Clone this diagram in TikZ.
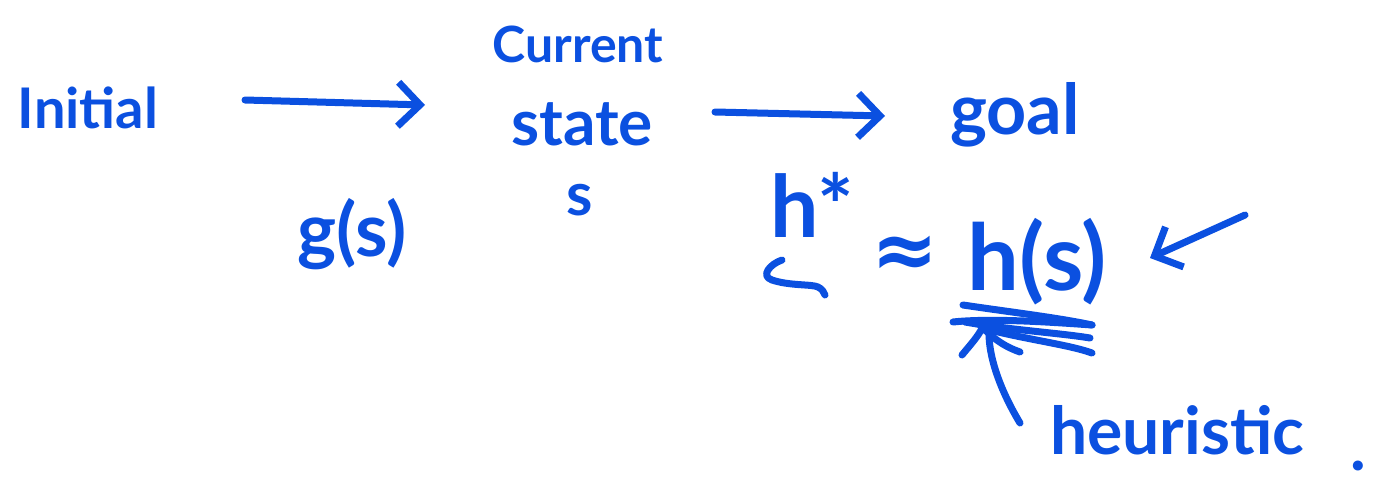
\documentclass[tikz,border=0pt]{standalone}
\usepackage{fontspec}
\setmainfont{Lato}
\newfontfamily\symfont{DejaVu Sans}
\usetikzlibrary{arrows.meta}
\definecolor{ink}{HTML}{0B50E0}
\tikzset{
  ink/.style={text=ink, inner sep=0pt, font=\bfseries\fontsize{56}{60}\selectfont},
  stroke/.style={draw=ink, line width=7pt, line cap=round, line join=round},
  pen/.style={stroke, -{Straight Barb[length=22pt,width=44pt,line width=7pt]}}
}
\newcommand{\fs}[1]{\bfseries\fontsize{#1}{#1}\selectfont}
\begin{document}
\begin{tikzpicture}[x=1pt,y=-1pt]
\useasboundingbox (0,0) rectangle (1373,490);
% states along the path
\node[ink] (init) at (88,108) {Initial};
\node[ink, font=\fs{50}] (cur) at (578,44) {Current};
\node[ink, font=\fs{64}] (state) at (582,124) {state};
\node[ink, font=\fs{60}] (s) at (580,200) {s};
\node[ink, font=\fs{70}] (goal) at (1015,115) {goal};
% cost so far
\node[ink, font=\fs{74}] (g) at (352,234) {g(s)};
% heuristic estimate
\node[ink, font=\fs{86}] (hstar) at (812,205) {h*};
\node[ink, font=\symfont\fs{80}] (approx) at (905,257) {≈};
\node[ink, font=\fs{92}] (h) at (1037,262) {h(s)};
\node[ink, font=\fs{66}, anchor=west] (heur) at (1050,430) {heuristic};
\node[ink, font=\fs{66}] (dot) at (1358,466) {.};
% transitions
\draw[pen] (245,100) -- (425,105);
\coordinate (a1) at (715,112);
\coordinate (a2) at (885,116);
\draw[pen] (a1) -- (a2);
% pointer toward h(s)
\coordinate (p0) at (1245,215);
\draw[pen] (p0) -- (1150,258);
% squiggle under h*
\draw[stroke] (782,260) .. controls (770,264) and (760,276) .. (772,280) .. controls (790,286) and (812,284) .. (818,287) .. controls (822,289) and (824,292) .. (825,295);
% underline scribbles beneath h(s)
\draw[stroke] (963,305) .. controls (1010,312) and (1060,318) .. (1092,325);
\draw[stroke] (953,322) .. controls (990,318) and (1050,322) .. (1092,325);
\draw[stroke] (965,322) .. controls (1010,330) and (1060,333) .. (1090,338);
\draw[stroke] (990,330) .. controls (1030,340) and (1070,345) .. (1092,353);
\draw[stroke] (978,323) .. controls (990,335) and (1000,345) .. (1020,352);
\draw[stroke] (985,322) .. controls (980,335) and (970,345) .. (962,355);
% curved pointer from the label
\draw[stroke] (heur.west) ++(-30,-7) .. controls (1000,390) and (985,350) .. (990,322);
\end{tikzpicture}
\end{document}
